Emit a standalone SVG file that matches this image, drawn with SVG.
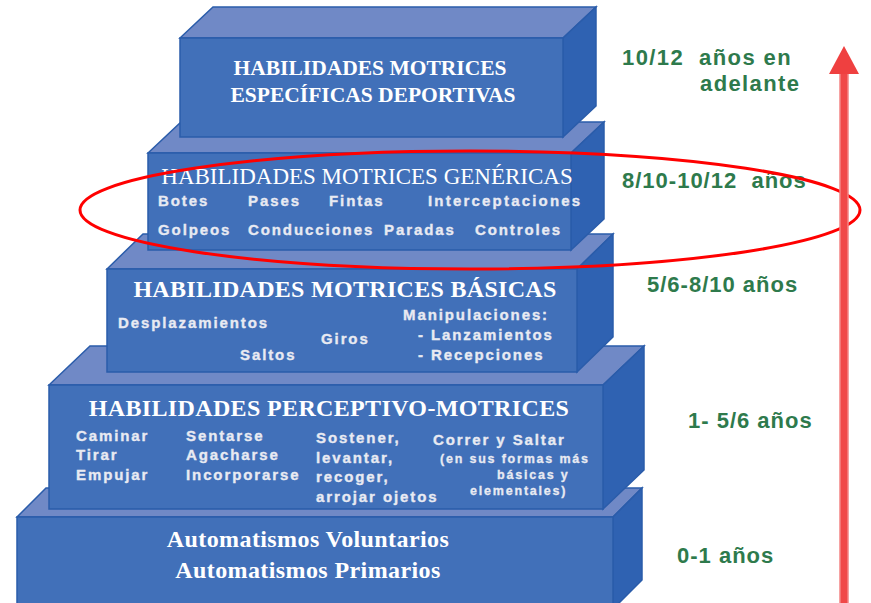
<svg xmlns="http://www.w3.org/2000/svg" width="871" height="603" viewBox="0 0 871 603">
<style>
.front{fill:#4170b9;stroke:#2a5caa;stroke-width:1.5}
.top{fill:#7089c6;stroke:#2a5caa;stroke-width:1.5}
.side{fill:#2f62b2;stroke:#2a5caa;stroke-width:1.5}
.title{font-family:"Liberation Serif","Times New Roman",serif;font-weight:bold;fill:#ffffff;text-anchor:middle}
.item{font-family:"Liberation Sans",Arial,sans-serif;font-weight:bold;font-size:15px;fill:#e8eaf2;stroke:#e8eaf2;stroke-width:0.35;letter-spacing:1.9px}
.small{font-family:"Liberation Sans",Arial,sans-serif;font-weight:bold;font-size:12.5px;fill:#e8eaf2;stroke:#e8eaf2;stroke-width:0.3;letter-spacing:1.8px}
.age{font-family:"Liberation Sans",Arial,sans-serif;font-weight:bold;font-size:22px;fill:#2e7a4c;letter-spacing:1.4px}
</style>
<rect width="871" height="603" fill="#ffffff"/>
<g id="block5">
<polygon class="top" points="17,517 46,488 642,488 613,517"/>
<polygon class="side" points="613,517 642,488 642,580 613,609"/>
<rect class="front" x="17" y="517" width="596" height="93"/>
<text class="title" x="308" y="547" font-size="24" style="letter-spacing:0.4px">Automatismos Voluntarios</text>
<text class="title" x="308" y="578" font-size="24" style="letter-spacing:0.4px">Automatismos Primarios</text>
</g>
<g id="block4">
<polygon class="top" points="49,385 90,346 644,346 603,385"/>
<polygon class="side" points="603,385 644,346 644,470 603,509"/>
<rect class="front" x="49" y="385" width="554" height="124"/>
<text class="title" x="329" y="416" font-size="24" style="letter-spacing:0.35px">HABILIDADES PERCEPTIVO-MOTRICES</text>
<text class="item" x="76" y="441">Caminar</text>
<text class="item" x="76" y="460">Tirar</text>
<text class="item" x="76" y="480">Empujar</text>
<text class="item" x="186" y="441">Sentarse</text>
<text class="item" x="186" y="460">Agacharse</text>
<text class="item" x="186" y="480">Incorporarse</text>
<text class="item" x="316" y="443">Sostener,</text>
<text class="item" x="316" y="463">levantar,</text>
<text class="item" x="316" y="482">recoger,</text>
<text class="item" x="316" y="502">arrojar ojetos</text>
<text class="item" x="433" y="445">Correr y Saltar</text>
<text class="small" x="440" y="463">(en sus formas más</text>
<text class="small" x="497" y="479">básicas y</text>
<text class="small" x="470" y="495">elementales)</text>
</g>
<g id="block3">
<polygon class="top" points="107,269 143,234 613,234 577,269"/>
<polygon class="side" points="577,269 613,234 613,337 577,372"/>
<rect class="front" x="107" y="269" width="470" height="103"/>
<text class="title" x="345" y="297" font-size="24" style="letter-spacing:0.3px">HABILIDADES MOTRICES BÁSICAS</text>
<text class="item" x="118" y="328">Desplazamientos</text>
<text class="item" x="240" y="360">Saltos</text>
<text class="item" x="321" y="344">Giros</text>
<text class="item" x="403" y="320">Manipulaciones:</text>
<text class="item" x="418" y="340">- Lanzamientos</text>
<text class="item" x="418" y="360">- Recepciones</text>
</g>
<g id="block2">
<polygon class="top" points="148,153 181,122 604,122 571,153"/>
<polygon class="side" points="571,153 604,122 604,219 571,250"/>
<rect class="front" x="148" y="153" width="423" height="97"/>
<text class="title" x="367" y="184" font-size="23" style="font-weight:normal">HABILIDADES MOTRICES GENÉRICAS</text>
<text class="item" x="158" y="206">Botes</text>
<text class="item" x="248" y="206">Pases</text>
<text class="item" x="329" y="206">Fintas</text>
<text class="item" x="428" y="206" style="letter-spacing:2.2px">Interceptaciones</text>
<text class="item" x="158" y="235">Golpeos</text>
<text class="item" x="248" y="235">Conducciones</text>
<text class="item" x="384" y="235">Paradas</text>
<text class="item" x="475" y="235">Controles</text>
</g>
<g id="block1">
<polygon class="top" points="180,38 213,7 596,7 563,38"/>
<polygon class="side" points="563,38 596,7 596,106 563,137"/>
<rect class="front" x="180" y="38" width="383" height="99"/>
<text class="title" x="370" y="75" font-size="21.5">HABILIDADES MOTRICES</text>
<text class="title" x="373" y="102" font-size="21.5">ESPECÍFICAS DEPORTIVAS</text>
</g>
<g id="ages">
<text class="age" x="622" y="65" xml:space="preserve">10/12  años en</text>
<text class="age" x="700" y="91">adelante</text>
<text class="age" x="622" y="188" xml:space="preserve" style="letter-spacing:1px">8/10-10/12  años</text>
<text class="age" x="647" y="292" style="letter-spacing:1px">5/6-8/10 años</text>
<text class="age" x="688" y="428" style="letter-spacing:1px">1- 5/6 años</text>
<text class="age" x="677" y="563" style="letter-spacing:1px">0-1 años</text>
</g>
<g id="connectors">
<ellipse cx="470" cy="210" rx="390" ry="59" fill="none" stroke="#ff0000" stroke-width="3"/>
<rect x="840" y="73" width="8" height="535" fill="#f04848" stroke="#f48484" stroke-width="1.5"/>
<polygon points="844,46 829,74 859,74" fill="#ef4040"/>
</g>
</svg>
